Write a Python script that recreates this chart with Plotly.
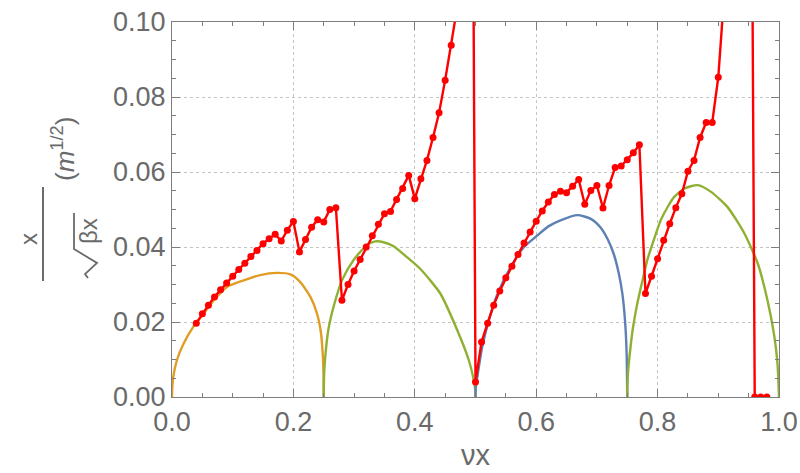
import plotly.graph_objects as go

# ---- data -------------------------------------------------------------
# red scan: sampled tune values and normalised amplitude
red_x = [0.04, 0.05, 0.06, 0.07, 0.08, 0.09, 0.10, 0.11, 0.12, 0.13, 0.14, 0.15,
         0.16, 0.17, 0.18, 0.19, 0.20, 0.21, 0.22, 0.23, 0.24, 0.25, 0.26, 0.27,
         0.28, 0.29, 0.30, 0.31, 0.32, 0.33, 0.34, 0.35, 0.36, 0.37, 0.38, 0.39,
         0.40, 0.41, 0.42, 0.43, 0.44, 0.45, 0.46, 0.47, 0.48, 0.49, 0.50, 0.51,
         0.52, 0.53, 0.54, 0.55, 0.56, 0.57, 0.58, 0.59, 0.60, 0.61, 0.62, 0.63,
         0.64, 0.65, 0.66, 0.67, 0.68, 0.69, 0.70, 0.71, 0.72, 0.73, 0.74, 0.75,
         0.76, 0.77, 0.78, 0.79, 0.80, 0.81, 0.82, 0.83, 0.84, 0.85, 0.86, 0.87,
         0.88, 0.89, 0.90, 0.91, 0.92, 0.93, 0.94, 0.95, 0.96, 0.97, 0.98]
red_y = [0.0197, 0.0222, 0.0245, 0.0267, 0.0286, 0.0304, 0.0322, 0.0340, 0.0357, 0.0375,
         0.0391, 0.0409, 0.0422, 0.0434, 0.0416, 0.0445, 0.0468, 0.0387, 0.0420, 0.0453,
         0.0473, 0.0467, 0.0500, 0.0505, 0.0258, 0.0300, 0.0336, 0.0367, 0.0400, 0.0430,
         0.0461, 0.0489, 0.0495, 0.0527, 0.0556, 0.0591, 0.0529, 0.0582, 0.0631, 0.0692,
         0.0758, 0.0845, 0.0938, 0.104, 0.16, 0.32, 0.004, 0.0147, 0.0197, 0.0245,
         0.0283, 0.0318, 0.0349, 0.0380, 0.0411, 0.0440, 0.0469, 0.0496, 0.0520, 0.0540,
         0.0549, 0.0545, 0.0562, 0.0580, 0.0514, 0.0551, 0.0564, 0.0504, 0.0564, 0.0612,
         0.0616, 0.0633, 0.0651, 0.0673, 0.0276, 0.0322, 0.0369, 0.0418, 0.0462, 0.0505,
         0.0542, 0.0602, 0.0631, 0.0692, 0.0732, 0.0732, 0.0853, 0.108, 0.13, 0.16,
         0.21, 0.29, 0.0, 0.0, 0.0]

# analytic envelopes, one arch per quarter-integer band
orange_x = [0.0, 0.0005, 0.002, 0.008, 0.019, 0.035, 0.052, 0.071, 0.090, 0.118, 0.145,
            0.173, 0.195, 0.211, 0.228, 0.239, 0.2455, 0.2485, 0.2497, 0.25]
orange_y = [0.0, 0.0027, 0.0053, 0.0098, 0.0142, 0.0187, 0.0222, 0.0262, 0.0293, 0.0311,
            0.0325, 0.0331, 0.0327, 0.0307, 0.0267, 0.0222, 0.0170, 0.0110, 0.0055, 0.0]

green1_x = [0.25, 0.2502, 0.2512, 0.2535, 0.2565, 0.260, 0.266, 0.280, 0.299, 0.321,
            0.335, 0.350, 0.365, 0.387, 0.410, 0.442, 0.470, 0.489, 0.4965, 0.4993, 0.50]
green1_y = [0.0, 0.0035, 0.0080, 0.0125, 0.0168, 0.0200, 0.0240, 0.0311, 0.0365, 0.0405,
            0.0415, 0.0412, 0.0402, 0.0373, 0.0340, 0.0276, 0.0178, 0.0098, 0.0050, 0.0022, 0.0]

blue_x = [0.50, 0.5005, 0.503, 0.511, 0.522, 0.535, 0.558, 0.580, 0.602, 0.620, 0.640,
          0.668, 0.690, 0.706, 0.718, 0.728, 0.736, 0.742, 0.7465, 0.7490, 0.75]
blue_y = [0.0, 0.0025, 0.0053, 0.0133, 0.0205, 0.0270, 0.0347, 0.0400, 0.0431, 0.0455, 0.0471,
          0.0485, 0.0475, 0.0452, 0.0420, 0.0380, 0.0330, 0.0275, 0.0200, 0.0115, 0.0]

green2_x = [0.75, 0.7503, 0.7515, 0.7545, 0.759, 0.766, 0.775, 0.783, 0.795, 0.805, 0.817,
            0.827, 0.844, 0.866, 0.888, 0.915, 0.943, 0.965, 0.981, 0.992, 0.9975, 1.0]
green2_y = [0.0, 0.0035, 0.0070, 0.0120, 0.0180, 0.0245, 0.0310, 0.0365, 0.0425, 0.0471, 0.0508,
            0.0533, 0.0556, 0.0565, 0.0547, 0.0507, 0.0436, 0.0356, 0.0258, 0.0165, 0.0090, 0.0]

x_ticks = [0.0, 0.2, 0.4, 0.6, 0.8, 1.0]
y_ticks = [0.00, 0.02, 0.04, 0.06, 0.08, 0.10]

# ---- styling ----------------------------------------------------------
W, H = 800, 473
ML, MR, MT, MB = 172, 21, 22, 76
GRAY = "#6a6a6a"
FRAME = "#7d7d7d"
FONT = "Liberation Sans, Arial, sans-serif"

ORANGE = "#E19C24"
GREEN = "#8FB032"
BLUE = "#5E81B5"
RED = "#FF0000"


def px_x(px):
    return (px - ML) / (W - ML - MR)


def px_y(py):
    return (H - MB - py) / (H - MB - MT)


fig = go.Figure()


def arch(xs, ys, color):
    return go.Scatter(x=xs, y=ys, mode="lines", hoverinfo="skip", showlegend=False,
                      line=dict(color=color, width=2.4, shape="spline", smoothing=0.6))


fig.add_trace(arch(orange_x, orange_y, ORANGE))
fig.add_trace(arch(green1_x, green1_y, GREEN))
fig.add_trace(arch(blue_x, blue_y, BLUE))
fig.add_trace(arch(green2_x, green2_y, GREEN))
fig.add_trace(go.Scatter(
    x=red_x, y=red_y, mode="lines+markers", showlegend=False,
    line=dict(color=RED, width=2.4),
    marker=dict(color=RED, size=7),
))

axis_common = dict(
    showline=True, linecolor=FRAME, linewidth=1.3, mirror="ticks",
    ticks="inside", ticklen=8, tickwidth=1, tickcolor=FRAME,
    showgrid=True, gridcolor="#c4c4c4", griddash="dot", gridwidth=1,
    zeroline=False, automargin=False,
    tickfont=dict(family=FONT, size=27, color=GRAY),
)

fig.update_xaxes(
    range=[0, 1], tickvals=x_ticks, tickformat=".1f",
    minor=dict(dtick=0.05, ticks="inside", ticklen=4, tickcolor=FRAME, showgrid=False),
    **axis_common,
)
fig.update_yaxes(
    range=[0, 0.1], tickvals=y_ticks, tickformat=".2f",
    minor=dict(dtick=0.005, ticks="inside", ticklen=4, tickcolor=FRAME, showgrid=False),
    **axis_common,
)

annotations = [
    # x-axis title
    dict(text="νx", x=0.5, y=px_y(455), xref="paper", yref="paper",
         showarrow=False, font=dict(family=FONT, size=29, color=GRAY),
         xanchor="center", yanchor="middle"),
    # y-axis title, built as a rotated fraction
    dict(text="x", x=px_x(28), y=px_y(239), xref="paper", yref="paper",
         showarrow=False, textangle=-90, font=dict(family=FONT, size=24, color=GRAY),
         xanchor="center", yanchor="middle"),
    dict(text="βx", x=px_x(88), y=px_y(231), xref="paper", yref="paper",
         showarrow=False, textangle=-90, font=dict(family=FONT, size=24, color=GRAY),
         xanchor="center", yanchor="middle"),
    dict(text="(<i>m</i><sup>1/2</sup>)", x=px_x(63), y=px_y(149), xref="paper", yref="paper",
         showarrow=False, textangle=-90, font=dict(family=FONT, size=26, color=GRAY),
         xanchor="center", yanchor="middle"),
]

# fraction bar and radical sign of the y-axis title
frac_bar = dict(type="line", xref="paper", yref="paper",
                x0=px_x(43), x1=px_x(43), y0=px_y(187), y1=px_y(281),
                line=dict(color=GRAY, width=2))
rad_pts = [(88, 278), (85, 274), (97, 263), (74, 249), (74, 213)]
rad_path = "M " + " L ".join(f"{px_x(a):.5f},{px_y(b):.5f}" for a, b in rad_pts)
radical = dict(type="path", xref="paper", yref="paper", path=rad_path,
               line=dict(color=GRAY, width=1.8))

fig.update_layout(
    width=W, height=H,
    margin=dict(l=ML, r=MR, t=MT, b=MB),
    paper_bgcolor="white", plot_bgcolor="white",
    annotations=annotations,
    shapes=[frac_bar, radical],
    showlegend=False,
)

fig.write_html("out.html")
